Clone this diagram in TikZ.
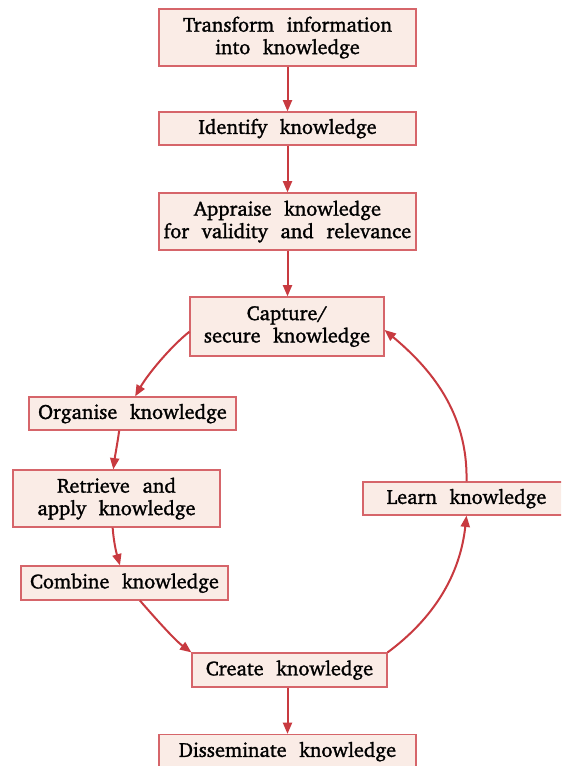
\documentclass[tikz,border=0pt]{standalone}
\usepackage[T1]{fontenc}
\usepackage{charter}
\usetikzlibrary{arrows.meta}
\definecolor{boxfill}{HTML}{FAECE6}
\definecolor{boxline}{HTML}{D6656A}
\definecolor{arr}{HTML}{C83A40}
\newcommand\kfont{\fontsize{15.3}{16.8}\selectfont\spaceskip=0.62em plus 0.1em minus 0.05em\relax}
\tikzset{
  kbox/.style={draw=boxline, line width=0.9pt, fill=boxfill, align=center, inner sep=0pt,
    font=\kfont, text=black,
    execute at begin node={\special{pdf:literal direct 2 Tr 0.2 w}},
    execute at end node={\special{pdf:literal direct 0 Tr}}},
  flow/.style={draw=arr, line width=1.5pt, -{Triangle[length=8.5pt,width=6.8pt]}},
}
\begin{document}
\begin{tikzpicture}[x=0.75pt,y=-0.75pt]
\useasboundingbox (0,0) rectangle (561,766);
\clip (0,0) rectangle (561,766);
\node[kbox, minimum width=192.75pt, minimum height=42.75pt] (t1) at (287.5,37.5) {Transform information\\into knowledge};
\node[kbox, minimum width=192.75pt, minimum height=24.75pt] (t2) at (287.5,128.5) {Identify knowledge};
\node[kbox, minimum width=192.75pt, minimum height=42.75pt] (t3) at (287.5,221.5) {Appraise knowledge\\for validity and relevance};
\node[kbox, minimum width=145.5pt, minimum height=44.25pt] (cap) at (287,326.5) {Capture/\\secure knowledge};
\node[kbox, minimum width=155.25pt, minimum height=24.75pt] (org) at (132.5,413.5) {Organise knowledge};
\node[kbox, minimum width=155.25pt, minimum height=42.75pt] (ret) at (116.5,498.5) {Retrieve and\\apply knowledge};
\node[kbox, minimum width=155.25pt, minimum height=25.5pt] (comb) at (124.5,583) {Combine knowledge};
\node[kbox, minimum width=146.25pt, minimum height=25.5pt] (create) at (289.5,670) {Create knowledge};
\node[kbox, minimum width=192.75pt, minimum height=25.5pt] (diss) at (287.5,751.5) {Disseminate knowledge};
\node[kbox, minimum width=155.25pt, minimum height=24.75pt] (learn) at (466.5,498.5) {Learn knowledge};

\draw[flow] (t1.south) -- (t2.north);
\draw[flow] (t2.south) -- (t3.north);
\draw[flow] (t3.south) -- (cap.north -| t3.south);
\draw[flow] (create.south -| diss.north) -- (diss.north);
\draw[flow] ([yshift=-3.9pt]cap.west) .. controls (169.7,347.5) and (147.3,375) .. ([xshift=2pt]org.north);
\draw[flow] ([xshift=-10pt]org.south) .. controls (117.5,443) and (115,456) .. ([xshift=-2.4pt]ret.north);
\draw[flow] ([xshift=-2.9pt]ret.south) .. controls (114,545) and (117,555) .. ([xshift=-3.4pt]comb.north);
\draw[flow] ([xshift=11.6pt]comb.south) .. controls (152.8,615.4) and (174.4,639.8) .. (create.north west);
\draw[flow] (create.north east) .. controls (434,618) and (460,575) .. (learn.south);
\draw[flow] (learn.north) .. controls (468,412) and (430,368) .. ([yshift=-2.6pt]cap.east);
\end{tikzpicture}
\end{document}
